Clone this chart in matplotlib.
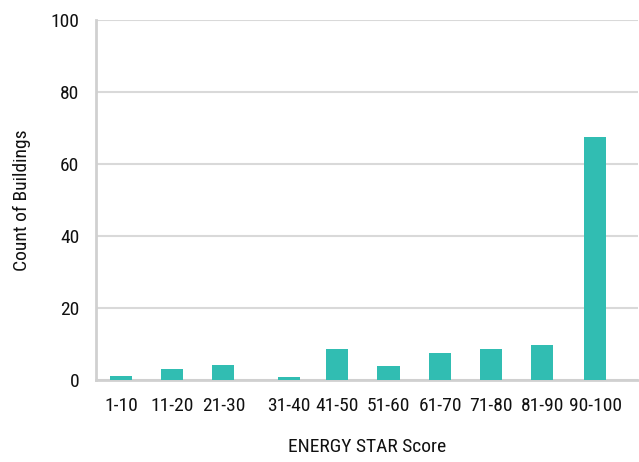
import matplotlib
matplotlib.use("Agg")
import matplotlib.pyplot as plt
from matplotlib import font_manager

# score bins and building counts
bins = ["1-10", "11-20", "21-30", "31-40", "41-50", "51-60",
        "61-70", "71-80", "81-90", "90-100"]
counts = [1.1, 3.1, 4.2, 0.8, 8.6, 3.9, 7.5, 8.6, 9.7, 67.5]
# slot positions of the bins along the axis (the 31-40 group sits a bit apart)
slots = [0, 1, 2, 3.28, 4.21, 5.22, 6.23, 7.22, 8.22, 9.25]
yticks = [0, 20, 40, 60, 80, 100]

TEAL = "#31bdb2"
GRID = "#d9d9d9"
SPINE = "#d0d0d0"

names = {f.name for f in font_manager.fontManager.ttflist}
family = [f for f in ["Roboto Condensed", "Liberation Sans Narrow", "Roboto", "DejaVu Sans"]
          if f in names]
plt.rcParams["font.family"] = family

fig = plt.figure(figsize=(6.39, 4.62), dpi=100)
ax = fig.add_axes([0.150, 0.1775, 0.848, 0.779])

ax.bar(slots, counts, width=0.43, color=TEAL, zorder=3)

ax.set_ylim(0, 100)
ax.set_xlim(-0.487, 10.08)
ax.set_yticks(yticks)
ax.set_xticks(slots)
ax.set_xticklabels(bins)
ax.yaxis.grid(True, color=GRID, lw=1.5, zorder=0)
ax.set_axisbelow(True)

for side in ("top", "right"):
    ax.spines[side].set_visible(False)
for side in ("left", "bottom"):
    ax.spines[side].set_color(SPINE)
    ax.spines[side].set_linewidth(2)

ax.tick_params(axis="both", length=0, labelsize=14, colors="#111111")
ax.tick_params(axis="x", pad=12.5)
ax.tick_params(axis="y", pad=12)

ax.set_xlabel("ENERGY STAR Score", fontsize=14, labelpad=16, color="#111111")
ax.set_ylabel("Count of Buildings", fontsize=14, labelpad=14, color="#111111")

fig.savefig("out.png", dpi=100)
